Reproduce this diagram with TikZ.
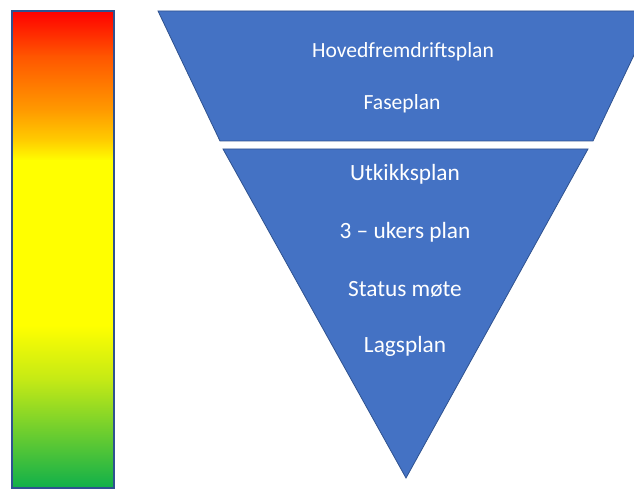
\documentclass[tikz,border=0pt]{standalone}
\usepackage{fontspec}
\setmainfont{Carlito}
\definecolor{fillblue}{RGB}{68,114,196}
\definecolor{edgeblue}{RGB}{47,82,143}
\definecolor{cRed}{RGB}{255,0,0}
\definecolor{cOrA}{RGB}{255,85,0}
\definecolor{cOrB}{RGB}{255,155,0}
\definecolor{cOrC}{RGB}{255,205,0}
\definecolor{cYel}{RGB}{255,255,0}
\definecolor{cYG}{RGB}{195,233,22}
\definecolor{cGrn}{RGB}{16,176,74}
\tikzset{
  funnel/.style={fill=fillblue, draw=edgeblue, line width=0.8pt, line join=miter},
  label/.style={anchor=base, text=white, inner sep=0pt},
  toptext/.style={label, font=\fontsize{21.6}{26}\selectfont},
  bottext/.style={label, font=\fontsize{23.3}{28}\selectfont}
}
\begin{document}
\begin{tikzpicture}[x=1pt,y=-1pt]
\useasboundingbox (0,0) rectangle (634,489);
\clip (0,0) rectangle (634,489);
% gradient bar
\fill[top color=cRed, bottom color=cOrA] (12,11) rectangle (114,56);
\fill[top color=cOrA, bottom color=cOrB] (12,55.5) rectangle (114,111);
\fill[top color=cOrB, bottom color=cOrC] (12,110.5) rectangle (114,141);
\fill[top color=cOrC, bottom color=cYel] (12,140.5) rectangle (114,161);
\fill[cYel] (12,160.5) rectangle (114,326);
\fill[top color=cYel, bottom color=cYG] (12,325.5) rectangle (114,381);
\fill[top color=cYG, bottom color=cGrn] (12,380.5) rectangle (114,488);
\draw[edgeblue, line width=1.3pt] (12,11) rectangle (114,488);
% trapezoid
\path[funnel] (158,11) -- (655,11) -- (593,141) -- (220,141) -- cycle;
% triangle
\path[funnel] (223,149) -- (588,149) -- (406,478) -- cycle;
% texts
\node[toptext] (t1) at (403,57.5) {Hovedfremdriftsplan};
\node[toptext] (t2) at (402,110) {Faseplan};
\node[bottext] (t3) at (405,181) {Utkikksplan};
\node[bottext] (t4) at (405,238) {3 – ukers plan};
\node[bottext] (t5) at (405,296) {Status møte};
\node[bottext] (t6) at (405,352) {Lagsplan};
\end{tikzpicture}
\end{document}
